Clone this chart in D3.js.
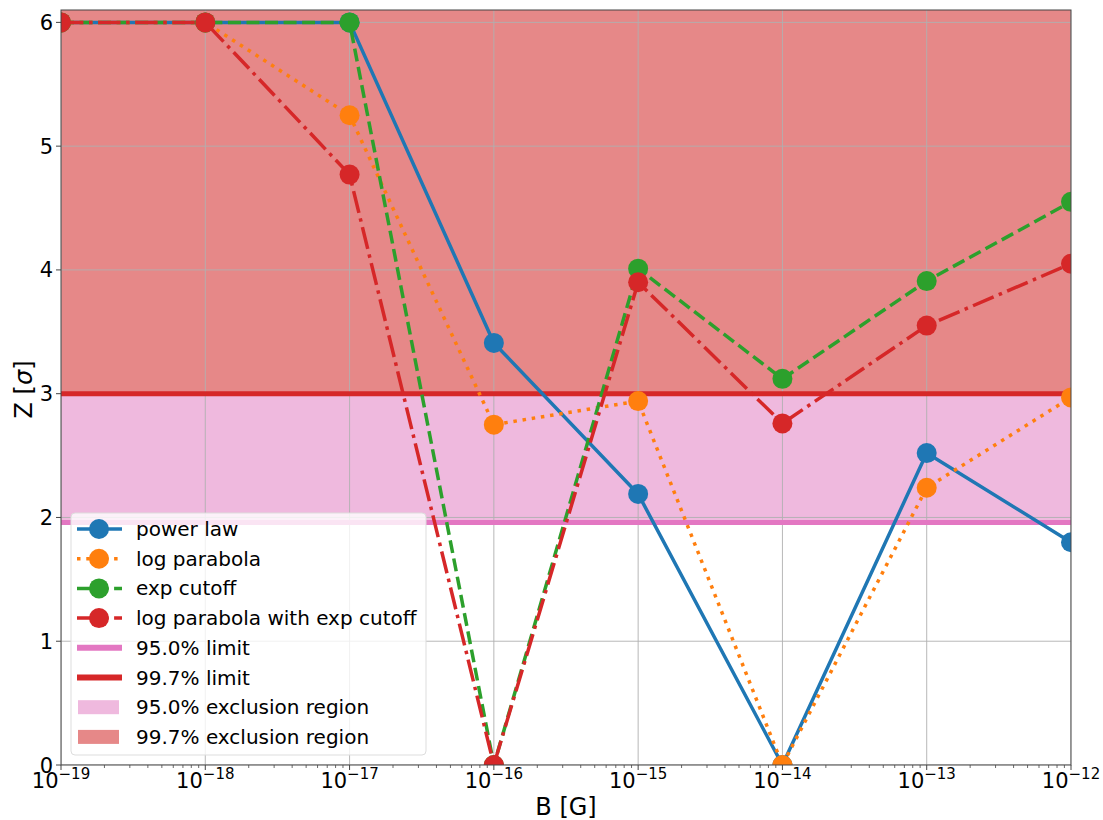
<!DOCTYPE html>
<html>
<head>
<meta charset="utf-8">
<script src="https://cdn.jsdelivr.net/npm/d3@7"></script>
<style>
  body { margin: 0; background: #fff; }
  svg { font-family: "DejaVu Sans", sans-serif; }
  .tick-label { font-size: 21px; fill: #000; }
  .axis-title { font-size: 24px; fill: #000; }
  .legend-text { font-size: 20px; fill: #000; }
</style>
</head>
<body>
<script>
// magnetic field values (x) and significance per model (y)
const bField = [1e-19, 1e-18, 1e-17, 1e-16, 1e-15, 1e-14, 1e-13, 1e-12];
const powerLaw = [6, 6, 6, 3.41, 2.19, 0, 2.52, 1.80];
const logParabola = [6, 6, 5.25, 2.75, 2.94, 0, 2.24, 2.97];
const expCutoff = [6, 6, 6, 0, 4.01, 3.12, 3.91, 4.55];
const logParabolaExpCutoff = [6, 6, 4.77, 0, 3.90, 2.76, 3.55, 4.05];

const seriesNames = ["power law", "log parabola", "exp cutoff", "log parabola with exp cutoff"];
const limitValues = [1.96, 3];
const limitNames = ["95.0% limit", "99.7% limit"];
const regionNames = ["95.0% exclusion region", "99.7% exclusion region"];
const yTicks = [0, 1, 2, 3, 4, 5, 6];
const xExponents = [-19, -18, -17, -16, -15, -14, -13, -12];

const W = 1103, H = 820;
const margin = {top: 10, right: 32, bottom: 55, left: 61};
const width = W - margin.left - margin.right;
const height = H - margin.top - margin.bottom;
const lw = 3.5;

const series = [
  {name: seriesNames[0], values: powerLaw, color: "#1f77b4", dash: null},
  {name: seriesNames[1], values: logParabola, color: "#ff7f0e", dash: [1 * lw, 1.65 * lw]},
  {name: seriesNames[2], values: expCutoff, color: "#2ca02c", dash: [3.7 * lw, 1.6 * lw]},
  {name: seriesNames[3], values: logParabolaExpCutoff, color: "#d62728", dash: [6.4 * lw, 1.6 * lw, 1 * lw, 1.6 * lw]}
];

const svg = d3.select("body").append("svg")
  .attr("width", W).attr("height", H);

const x = d3.scaleLog().domain([1e-19, 1e-12]).range([0, width]);
const y = d3.scaleLinear().domain([0, 6.1]).range([height, 0]);

svg.append("defs").append("clipPath").attr("id", "plot-clip")
  .append("rect").attr("width", width).attr("height", height);

const g = svg.append("g").attr("transform", `translate(${margin.left},${margin.top})`);
const plot = g.append("g").attr("clip-path", "url(#plot-clip)");

// exclusion regions
plot.append("rect")
  .attr("x", 0).attr("width", width)
  .attr("y", y(limitValues[1])).attr("height", y(limitValues[0]) - y(limitValues[1]))
  .attr("fill", "#efb9de");
plot.append("rect")
  .attr("x", 0).attr("width", width)
  .attr("y", 0).attr("height", y(limitValues[1]))
  .attr("fill", "#e68888");

// grid
plot.selectAll(".vgrid").data(xExponents).enter().append("line")
  .attr("x1", d => x(Math.pow(10, d))).attr("x2", d => x(Math.pow(10, d)))
  .attr("y1", 0).attr("y2", height)
  .attr("stroke", "#b0b0b0").attr("stroke-width", 0.9);
plot.selectAll(".hgrid").data(yTicks).enter().append("line")
  .attr("x1", 0).attr("x2", width)
  .attr("y1", d => y(d)).attr("y2", d => y(d))
  .attr("stroke", "#b0b0b0").attr("stroke-width", 0.9);

// limit lines
const limitColors = ["#e377c2", "#d62728"];
plot.selectAll(".limit").data(limitValues).enter().append("line")
  .attr("x1", 0).attr("x2", width)
  .attr("y1", d => y(d)).attr("y2", d => y(d))
  .attr("stroke", (d, i) => limitColors[i]).attr("stroke-width", 5);

// series
const line = d3.line().x(d => x(d[0])).y(d => y(d[1]));
series.forEach(s => {
  const pts = bField.map((b, i) => [b, s.values[i]]);
  plot.append("path")
    .attr("d", line(pts))
    .attr("fill", "none")
    .attr("stroke", s.color)
    .attr("stroke-width", lw)
    .attr("stroke-linejoin", "round")
    .attr("stroke-dasharray", s.dash ? s.dash.join(",") : null);
  plot.selectAll(null).data(pts).enter().append("circle")
    .attr("cx", d => x(d[0])).attr("cy", d => y(d[1]))
    .attr("r", 10).attr("fill", s.color);
});

// spines
g.append("rect").attr("width", width).attr("height", height)
  .attr("fill", "none").attr("stroke", "#444").attr("stroke-width", 1);

// x axis ticks
const xAxis = g.append("g").attr("transform", `translate(0,${height})`);
const minor = [];
xExponents.slice(0, -1).forEach(e => {
  for (let k = 2; k <= 9; k++) minor.push(k * Math.pow(10, e));
});
xAxis.selectAll(".minor").data(minor).enter().append("line")
  .attr("x1", d => x(d)).attr("x2", d => x(d))
  .attr("y1", 0).attr("y2", 3)
  .attr("stroke", "#444").attr("stroke-width", 0.8);
xAxis.selectAll(".major").data(xExponents).enter().append("line")
  .attr("x1", d => x(Math.pow(10, d))).attr("x2", d => x(Math.pow(10, d)))
  .attr("y1", 0).attr("y2", 5)
  .attr("stroke", "#444").attr("stroke-width", 1);
const xl = xAxis.selectAll(".xl").data(xExponents).enter().append("text")
  .attr("class", "tick-label")
  .attr("x", d => x(Math.pow(10, d)))
  .attr("y", 23)
  .attr("text-anchor", "middle");
xl.append("tspan").text("10");
xl.append("tspan").attr("dy", -9).attr("font-size", "15px").text(d => "\u2212" + Math.abs(d));

// y axis ticks
const yAxis = g.append("g");
yAxis.selectAll("line").data(yTicks).enter().append("line")
  .attr("x1", -5).attr("x2", 0)
  .attr("y1", d => y(d)).attr("y2", d => y(d))
  .attr("stroke", "#444").attr("stroke-width", 1);
yAxis.selectAll("text").data(yTicks).enter().append("text")
  .attr("class", "tick-label")
  .attr("x", -8).attr("y", d => y(d))
  .attr("dy", "0.36em")
  .attr("text-anchor", "end")
  .text(d => d);

// axis titles
svg.append("text").attr("class", "axis-title")
  .attr("x", margin.left + width / 2).attr("y", 815)
  .attr("text-anchor", "middle").text("B [G]");
const yt = svg.append("text").attr("class", "axis-title")
  .attr("transform", `translate(32,${margin.top + height / 2 + 2}) rotate(-90)`)
  .attr("text-anchor", "middle");
yt.append("tspan").text("Z [");
yt.append("tspan").attr("font-style", "italic").text("\u03c3");
yt.append("tspan").text("]");

// legend
const leg = svg.append("g").attr("transform", "translate(71,513)");
leg.append("rect").attr("width", 355).attr("height", 242).attr("rx", 4)
  .attr("fill", "rgba(255,255,255,0.8)").attr("stroke", "#ddd").attr("stroke-width", 1);
const rowY = i => 16 + i * 29.7;
series.forEach((s, i) => {
  const r = leg.append("g").attr("transform", `translate(0,${rowY(i)})`);
  r.append("line").attr("x1", 6).attr("x2", 51).attr("y1", 0).attr("y2", 0)
    .attr("stroke", s.color).attr("stroke-width", lw)
    .attr("stroke-dasharray", s.dash ? s.dash.join(",") : null);
  r.append("circle").attr("cx", 28).attr("cy", 0).attr("r", 10).attr("fill", s.color);
  r.append("text").attr("class", "legend-text").attr("x", 65).attr("dy", "0.35em").text(s.name);
});
limitNames.forEach((n, i) => {
  const r = leg.append("g").attr("transform", `translate(0,${rowY(4 + i)})`);
  r.append("line").attr("x1", 6).attr("x2", 51).attr("y1", 0).attr("y2", 0)
    .attr("stroke", limitColors[i]).attr("stroke-width", 6);
  r.append("text").attr("class", "legend-text").attr("x", 65).attr("dy", "0.35em").text(n);
});
const regionColors = ["#efb9de", "#e68888"];
regionNames.forEach((n, i) => {
  const r = leg.append("g").attr("transform", `translate(0,${rowY(6 + i)})`);
  r.append("rect").attr("x", 7).attr("y", -7).attr("width", 41).attr("height", 14)
    .attr("fill", regionColors[i]);
  r.append("text").attr("class", "legend-text").attr("x", 65).attr("dy", "0.35em").text(n);
});
</script>
</body>
</html>
